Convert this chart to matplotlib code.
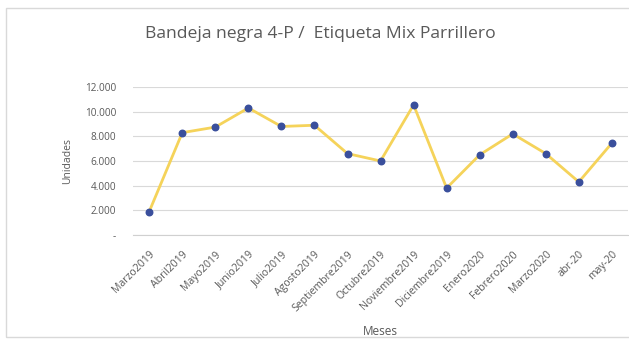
import matplotlib
matplotlib.use("Agg")
import matplotlib.pyplot as plt
from matplotlib.patches import Rectangle
from matplotlib.ticker import FuncFormatter

months = ["Marzo2019", "Abril2019", "Mayo2019", "Junio2019", "Julio2019",
          "Agosto2019", "Septiembre2019", "Octubre2019", "Noviembre2019",
          "Diciembre2019", "Enero2020", "Febrero2020", "Marzo2020",
          "abr-20", "may-20"]
units = [1900, 8300, 8750, 10300, 8800, 8900, 6600, 6000, 10550,
         3800, 6500, 8200, 6600, 4300, 7450]
y_ticks = [0, 2000, 4000, 6000, 8000, 10000, 12000]

plt.rcParams["font.family"] = ["Open Sans", "DejaVu Sans"]
text_gray = "#595959"

fig = plt.figure(figsize=(6.29, 3.40), dpi=100)
fig.patch.set_facecolor("white")

# outer chart frame
fig.add_artist(Rectangle((6 / 629, 3 / 340), 640 / 629, 329 / 340,
                         transform=fig.transFigure, fill=False,
                         edgecolor="#d9d9d9", linewidth=1.0))

ax = fig.add_axes([0.211, 0.309, 0.788, 0.435])
x = list(range(len(months)))
ax.plot(x, units, color="#F5D35A", linewidth=2.0, zorder=2)
ax.scatter(x, units, s=22, color="#3A4F9C", zorder=3)

ax.set_xlim(-0.5, len(months) - 0.5)
ax.set_ylim(0, 12000)
ax.set_yticks(y_ticks)

def thousands(v, pos):
    if v == 0:
        return "-"
    return f"{int(v):,}".replace(",", ".")

ax.yaxis.set_major_formatter(FuncFormatter(thousands))
ax.set_xticks(x)
ax.set_xticklabels(months, rotation=45, ha="right", rotation_mode="anchor",
                   fontsize=7.6, color=text_gray)
ax.tick_params(axis="y", labelsize=7.2, labelcolor=text_gray, length=0, pad=12)
ax.tick_params(axis="x", length=0, pad=10)

ax.grid(axis="y", color="#d9d9d9", linewidth=0.8)
ax.set_axisbelow(True)
for side in ["top", "right", "left"]:
    ax.spines[side].set_visible(False)
ax.spines["bottom"].set_color("#d0d0d0")
ax.spines["bottom"].set_linewidth(0.8)

ax.set_ylabel("Unidades", fontsize=7.5, color=text_gray, labelpad=8)
ax.set_xlabel("Meses", fontsize=8.5, color=text_gray, labelpad=8)
fig.text(0.509, 0.90, "Bandeja negra 4-P /  Etiqueta Mix Parrillero",
         ha="center", va="center", fontsize=12.6, color=text_gray)

fig.savefig("out.png", dpi=100)
